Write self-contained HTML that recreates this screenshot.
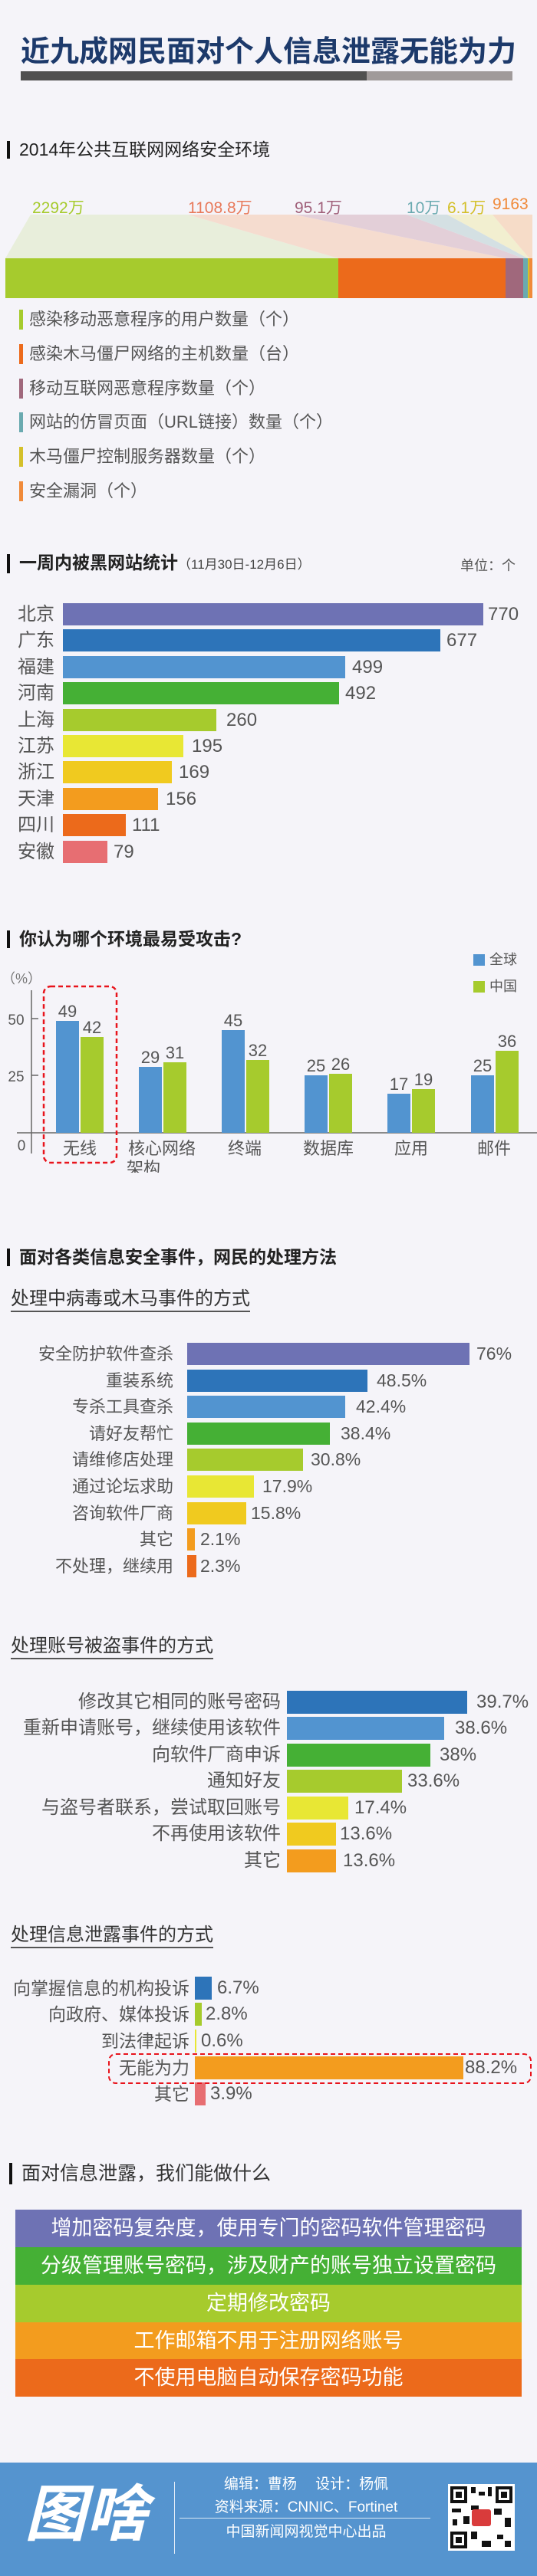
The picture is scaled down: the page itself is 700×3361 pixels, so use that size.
<!DOCTYPE html>
<html><head><meta charset="utf-8"><style>
*{margin:0;padding:0;box-sizing:border-box}
body{width:700px;height:3361px;background:#f5f4f9;position:relative;overflow:hidden;font-family:"Liberation Sans","Noto Sans CJK SC",sans-serif;color:#555}
.a{position:absolute;white-space:nowrap}
.b{position:absolute}
.hd{position:absolute;left:9px;font-size:23px;color:#222;white-space:nowrap;padding-left:12px;border-left:4px solid #111;line-height:23px}
.sub{position:absolute;left:14px;font-size:24px;color:#333;white-space:nowrap;border-bottom:2px solid #555;line-height:30px}
</style></head><body>

<div class="a" style="left:27px;top:46px;width:643px;font-size:38px;font-weight:bold;color:#1d3a6b;line-height:44px;overflow:hidden">近九成网民面对个人信息泄露无能为力</div>
<div class="b" style="left:27px;top:93px;width:451px;height:12px;background:#505050"></div>
<div class="b" style="left:478px;top:93px;width:190px;height:12px;background:#a09a9a"></div>

<div class="hd" style="top:184px">2014年公共互联网网络安全环境</div>
<svg class="b" style="left:0;top:0" width="700" height="400">
<polygon points="40,280 245,280 441,337 7,337" fill="#e8eedb"/>
<polygon points="245,280 384,280 659,337 441,337" fill="#f5dccf"/>
<polygon points="384,280 530,280 682,337 659,337" fill="#e3cfd8"/>
<polygon points="530,280 583,280 688,337 682,337" fill="#d4e0e3"/>
<polygon points="583,280 642,280 690,337 688,337" fill="#f2efd0"/>
<polygon points="642,280 694,280 694,337 690,337" fill="#f6dcc8"/>
<rect x="7" y="337" width="434" height="52" fill="#a6cb2d"/>
<rect x="441" y="337" width="218" height="52" fill="#ec6a1b"/>
<rect x="659" y="337" width="23" height="52" fill="#a0687c"/>
<rect x="682" y="337" width="6" height="52" fill="#6aaab0"/>
<rect x="688" y="337" width="2" height="52" fill="#d4c02a"/>
<rect x="690" y="337" width="4" height="52" fill="#f08a3a"/>
</svg>
<div class="a" style="left:42px;top:255px;font-size:21px;color:#a6cb2d">2292万</div>
<div class="a" style="left:245px;top:255px;font-size:21px;color:#e8795a">1108.8万</div>
<div class="a" style="left:384px;top:255px;font-size:21px;color:#a0607a">95.1万</div>
<div class="a" style="left:530px;top:255px;font-size:21px;color:#6aaab0">10万</div>
<div class="a" style="left:583px;top:255px;font-size:21px;color:#d4c02a">6.1万</div>
<div class="a" style="left:642px;top:255px;font-size:21px;color:#f08a3a">9163</div>

<div class="a" style="left:25px;top:404px;font-size:22px;line-height:26px;border-left:5px solid #a6cb2d;padding-left:8px">感染移动恶意程序的用户数量（个）</div>
<div class="a" style="left:25px;top:449px;font-size:22px;line-height:26px;border-left:5px solid #ec6a1b;padding-left:8px">感染木马僵尸网络的主机数量（台）</div>
<div class="a" style="left:25px;top:494px;font-size:22px;line-height:26px;border-left:5px solid #a0687c;padding-left:8px">移动互联网恶意程序数量（个）</div>
<div class="a" style="left:25px;top:538px;font-size:22px;line-height:26px;border-left:5px solid #6aaab0;padding-left:8px">网站的仿冒页面（URL链接）数量（个）</div>
<div class="a" style="left:25px;top:583px;font-size:22px;line-height:26px;border-left:5px solid #d4c02a;padding-left:8px">木马僵尸控制服务器数量（个）</div>
<div class="a" style="left:25px;top:628px;font-size:22px;line-height:26px;border-left:5px solid #f08a3a;padding-left:8px">安全漏洞（个）</div>

<div class="hd" style="top:723px;font-weight:bold">一周内被黑网站统计<span style="font-weight:normal;font-size:17px;color:#444">（11月30日-12月6日）</span></div>
<div class="a" style="left:600px;top:724px;font-size:18px;color:#555">单位：个</div>

<!-- chart2 -->
<div class="a" style="left:23px;top:787px;font-size:24px;line-height:29px">北京</div><div class="b" style="left:82px;top:787px;width:548px;height:29px;background:#6e72b4"></div><div class="a" style="left:636px;top:787px;font-size:24px;line-height:29px">770</div>
<div class="a" style="left:23px;top:821px;font-size:24px;line-height:29px">广东</div><div class="b" style="left:82px;top:821px;width:492px;height:29px;background:#2d74b9"></div><div class="a" style="left:582px;top:821px;font-size:24px;line-height:29px">677</div>
<div class="a" style="left:23px;top:856px;font-size:24px;line-height:29px">福建</div><div class="b" style="left:82px;top:856px;width:368px;height:29px;background:#5294d0"></div><div class="a" style="left:459px;top:856px;font-size:24px;line-height:29px">499</div>
<div class="a" style="left:23px;top:890px;font-size:24px;line-height:29px">河南</div><div class="b" style="left:82px;top:890px;width:360px;height:29px;background:#45b035"></div><div class="a" style="left:450px;top:890px;font-size:24px;line-height:29px">492</div>
<div class="a" style="left:23px;top:925px;font-size:24px;line-height:29px">上海</div><div class="b" style="left:82px;top:925px;width:200px;height:29px;background:#a6cb2d"></div><div class="a" style="left:295px;top:925px;font-size:24px;line-height:29px">260</div>
<div class="a" style="left:23px;top:959px;font-size:24px;line-height:29px">江苏</div><div class="b" style="left:82px;top:959px;width:157px;height:29px;background:#e8e734"></div><div class="a" style="left:250px;top:959px;font-size:24px;line-height:29px">195</div>
<div class="a" style="left:23px;top:993px;font-size:24px;line-height:29px">浙江</div><div class="b" style="left:82px;top:993px;width:142px;height:29px;background:#f0ca1f"></div><div class="a" style="left:233px;top:993px;font-size:24px;line-height:29px">169</div>
<div class="a" style="left:23px;top:1028px;font-size:24px;line-height:29px">天津</div><div class="b" style="left:82px;top:1028px;width:124px;height:29px;background:#f39c1e"></div><div class="a" style="left:216px;top:1028px;font-size:24px;line-height:29px">156</div>
<div class="a" style="left:23px;top:1062px;font-size:24px;line-height:29px">四川</div><div class="b" style="left:82px;top:1062px;width:82px;height:29px;background:#ec6a1b"></div><div class="a" style="left:172px;top:1062px;font-size:24px;line-height:29px">111</div>
<div class="a" style="left:23px;top:1097px;font-size:24px;line-height:29px">安徽</div><div class="b" style="left:82px;top:1097px;width:58px;height:29px;background:#e76e72"></div><div class="a" style="left:148px;top:1097px;font-size:24px;line-height:29px">79</div>

<!-- chart3 -->
<div class="hd" style="top:1214px;font-weight:bold">你认为哪个环境最易受攻击?</div>
<div class="b" style="left:617px;top:1245px;width:15px;height:15px;background:#5294d0"></div><div class="a" style="left:638px;top:1240px;font-size:18px;line-height:24px">全球</div>
<div class="b" style="left:617px;top:1280px;width:15px;height:15px;background:#a6cb2d"></div><div class="a" style="left:638px;top:1275px;font-size:18px;line-height:24px">中国</div>
<div class="a" style="left:2px;top:1263px;font-size:18px;color:#777">（%）</div>
<svg class="b" style="left:0;top:1280px" width="700" height="250">
<g transform="translate(0,-1280)">
<line x1="41" y1="1292" x2="41" y2="1505" stroke="#666" stroke-width="1.5"/>
<line x1="41" y1="1329" x2="50" y2="1329" stroke="#666" stroke-width="1.5"/>
<line x1="41" y1="1403" x2="50" y2="1403" stroke="#666" stroke-width="1.5"/>
<line x1="22" y1="1478" x2="700" y2="1478" stroke="#666" stroke-width="1.5"/>
<g fill="#5294d0">
<rect x="73" y="1332" width="30" height="146"/>
<rect x="181" y="1392" width="30" height="86"/>
<rect x="289" y="1344" width="30" height="134"/>
<rect x="397" y="1403" width="30" height="75"/>
<rect x="505" y="1427" width="30" height="51"/>
<rect x="614" y="1403" width="30" height="75"/>
</g>
<g fill="#a6cb2d">
<rect x="105" y="1353" width="30" height="125"/>
<rect x="213" y="1386" width="30" height="92"/>
<rect x="321" y="1383" width="30" height="95"/>
<rect x="429" y="1401" width="30" height="77"/>
<rect x="537" y="1421" width="30" height="57"/>
<rect x="646" y="1371" width="30" height="107"/>
</g>
<rect x="57" y="1287" width="95" height="230" rx="9" fill="none" stroke="#e8141c" stroke-width="2.5" stroke-dasharray="6,4"/>
<g font-size="22" fill="#555" text-anchor="middle" font-family="Liberation Sans, Noto Sans CJK SC, sans-serif">
<text x="88" y="1327">49</text><text x="120" y="1348">42</text>
<text x="196" y="1387">29</text><text x="228" y="1381">31</text>
<text x="304" y="1339">45</text><text x="336" y="1378">32</text>
<text x="412" y="1398">25</text><text x="444" y="1396">26</text>
<text x="520" y="1422">17</text><text x="552" y="1416">19</text>
<text x="629" y="1398">25</text><text x="661" y="1366">36</text>
<text x="21" y="1337" font-size="19">50</text><text x="21" y="1411" font-size="19">25</text><text x="28" y="1501" font-size="19">0</text>
<text x="104" y="1506">无线</text>
<text x="211" y="1506">核心网络</text><text x="187" y="1532">架构</text>
<text x="319" y="1506">终端</text>
<text x="428" y="1506">数据库</text>
<text x="536" y="1506">应用</text>
<text x="644" y="1506">邮件</text>
</g></g></svg>

<div class="hd" style="top:1629px;font-weight:bold">面对各类信息安全事件，网民的处理方法</div>
<div class="sub" style="top:1680px">处理中病毒或木马事件的方式</div>

<!-- chart4 -->
<div class="a" style="left:0;width:226px;text-align:right;top:1752px;font-size:22px;line-height:29px">安全防护软件查杀</div><div class="b" style="left:244px;top:1752px;width:368px;height:29px;background:#6e72b4"></div><div class="a" style="left:621px;top:1752px;font-size:23px;line-height:29px">76%</div>
<div class="a" style="left:0;width:226px;text-align:right;top:1787px;font-size:22px;line-height:29px">重装系统</div><div class="b" style="left:244px;top:1787px;width:235px;height:29px;background:#2d74b9"></div><div class="a" style="left:491px;top:1787px;font-size:23px;line-height:29px">48.5%</div>
<div class="a" style="left:0;width:226px;text-align:right;top:1821px;font-size:22px;line-height:29px">专杀工具查杀</div><div class="b" style="left:244px;top:1821px;width:206px;height:29px;background:#5294d0"></div><div class="a" style="left:464px;top:1821px;font-size:23px;line-height:29px">42.4%</div>
<div class="a" style="left:0;width:226px;text-align:right;top:1856px;font-size:22px;line-height:29px">请好友帮忙</div><div class="b" style="left:244px;top:1856px;width:186px;height:29px;background:#45b035"></div><div class="a" style="left:444px;top:1856px;font-size:23px;line-height:29px">38.4%</div>
<div class="a" style="left:0;width:226px;text-align:right;top:1890px;font-size:22px;line-height:29px">请维修店处理</div><div class="b" style="left:244px;top:1890px;width:151px;height:29px;background:#a6cb2d"></div><div class="a" style="left:405px;top:1890px;font-size:23px;line-height:29px">30.8%</div>
<div class="a" style="left:0;width:226px;text-align:right;top:1925px;font-size:22px;line-height:29px">通过论坛求助</div><div class="b" style="left:244px;top:1925px;width:87px;height:29px;background:#e8e734"></div><div class="a" style="left:342px;top:1925px;font-size:23px;line-height:29px">17.9%</div>
<div class="a" style="left:0;width:226px;text-align:right;top:1960px;font-size:22px;line-height:29px">咨询软件厂商</div><div class="b" style="left:244px;top:1960px;width:77px;height:29px;background:#f0ca1f"></div><div class="a" style="left:327px;top:1960px;font-size:23px;line-height:29px">15.8%</div>
<div class="a" style="left:0;width:226px;text-align:right;top:1994px;font-size:22px;line-height:29px">其它</div><div class="b" style="left:244px;top:1994px;width:10px;height:29px;background:#f39c1e"></div><div class="a" style="left:261px;top:1994px;font-size:23px;line-height:29px">2.1%</div>
<div class="a" style="left:0;width:226px;text-align:right;top:2029px;font-size:22px;line-height:29px">不处理，继续用</div><div class="b" style="left:244px;top:2029px;width:12px;height:29px;background:#ec6a1b"></div><div class="a" style="left:261px;top:2029px;font-size:23px;line-height:29px">2.3%</div>

<div class="sub" style="top:2133px">处理账号被盗事件的方式</div>
<!-- chart5 -->
<div class="a" style="left:0;width:366px;text-align:right;top:2206px;font-size:24px;line-height:30px">修改其它相同的账号密码</div><div class="b" style="left:374px;top:2206px;width:235px;height:30px;background:#2d74b9"></div><div class="a" style="left:621px;top:2206px;font-size:24px;line-height:30px">39.7%</div>
<div class="a" style="left:0;width:366px;text-align:right;top:2240px;font-size:24px;line-height:30px">重新申请账号，继续使用该软件</div><div class="b" style="left:374px;top:2240px;width:205px;height:30px;background:#5294d0"></div><div class="a" style="left:593px;top:2240px;font-size:24px;line-height:30px">38.6%</div>
<div class="a" style="left:0;width:366px;text-align:right;top:2275px;font-size:24px;line-height:30px">向软件厂商申诉</div><div class="b" style="left:374px;top:2275px;width:187px;height:30px;background:#45b035"></div><div class="a" style="left:573px;top:2275px;font-size:24px;line-height:30px">38%</div>
<div class="a" style="left:0;width:366px;text-align:right;top:2309px;font-size:24px;line-height:30px">通知好友</div><div class="b" style="left:374px;top:2309px;width:150px;height:30px;background:#a6cb2d"></div><div class="a" style="left:531px;top:2309px;font-size:24px;line-height:30px">33.6%</div>
<div class="a" style="left:0;width:366px;text-align:right;top:2344px;font-size:24px;line-height:30px">与盗号者联系，尝试取回账号</div><div class="b" style="left:374px;top:2344px;width:80px;height:30px;background:#e8e734"></div><div class="a" style="left:462px;top:2344px;font-size:24px;line-height:30px">17.4%</div>
<div class="a" style="left:0;width:366px;text-align:right;top:2378px;font-size:24px;line-height:30px">不再使用该软件</div><div class="b" style="left:374px;top:2378px;width:64px;height:30px;background:#f0ca1f"></div><div class="a" style="left:443px;top:2378px;font-size:24px;line-height:30px">13.6%</div>
<div class="a" style="left:0;width:366px;text-align:right;top:2413px;font-size:24px;line-height:30px">其它</div><div class="b" style="left:374px;top:2413px;width:64px;height:30px;background:#f39c1e"></div><div class="a" style="left:447px;top:2413px;font-size:24px;line-height:30px">13.6%</div>

<div class="sub" style="top:2510px">处理信息泄露事件的方式</div>
<!-- chart6 -->
<div class="a" style="left:0;width:247px;text-align:right;top:2579px;font-size:23px;line-height:30px">向掌握信息的机构投诉</div><div class="b" style="left:254px;top:2579px;width:22px;height:30px;background:#2d74b9"></div><div class="a" style="left:283px;top:2579px;font-size:24px;line-height:30px">6.7%</div>
<div class="a" style="left:0;width:247px;text-align:right;top:2613px;font-size:23px;line-height:30px">向政府、媒体投诉</div><div class="b" style="left:254px;top:2613px;width:9px;height:30px;background:#a6cb2d"></div><div class="a" style="left:268px;top:2613px;font-size:24px;line-height:30px">2.8%</div>
<div class="a" style="left:0;width:247px;text-align:right;top:2648px;font-size:23px;line-height:30px">到法律起诉</div><div class="b" style="left:254px;top:2648px;width:2px;height:30px;background:#e8e734"></div><div class="a" style="left:262px;top:2648px;font-size:24px;line-height:30px">0.6%</div>
<div class="a" style="left:0;width:247px;text-align:right;top:2683px;font-size:23px;line-height:30px">无能为力</div><div class="b" style="left:254px;top:2683px;width:350px;height:30px;background:#f39c1e"></div><div class="a" style="left:606px;top:2683px;font-size:24px;line-height:30px">88.2%</div>
<div class="a" style="left:0;width:247px;text-align:right;top:2717px;font-size:23px;line-height:30px">其它</div><div class="b" style="left:254px;top:2717px;width:14px;height:30px;background:#e76e72"></div><div class="a" style="left:274px;top:2717px;font-size:24px;line-height:30px">3.9%</div>
<div class="b" style="left:141px;top:2679px;width:552px;height:40px;border:2.5px dashed #e8141c;border-radius:10px"></div>

<div class="a" style="left:12px;top:2822px;font-size:25px;color:#333;line-height:28px;border-left:4px solid #111;padding-left:12px">面对信息泄露，我们能做什么</div>

<div class="b" style="left:20px;top:2883px;width:660px;height:49px;background:#6e72b4;color:#fff;font-size:27px;line-height:49px;text-align:center">增加密码复杂度，使用专门的密码软件管理密码</div>
<div class="b" style="left:20px;top:2932px;width:660px;height:49px;background:#45b035;color:#fff;font-size:27px;line-height:49px;text-align:center">分级管理账号密码，涉及财产的账号独立设置密码</div>
<div class="b" style="left:20px;top:2981px;width:660px;height:49px;background:#a6cb2d;color:#fff;font-size:27px;line-height:49px;text-align:center">定期修改密码</div>
<div class="b" style="left:20px;top:3030px;width:660px;height:48px;background:#f39c1e;color:#fff;font-size:27px;line-height:48px;text-align:center">工作邮箱不用于注册网络账号</div>
<div class="b" style="left:20px;top:3078px;width:660px;height:49px;background:#ec6a1b;color:#fff;font-size:27px;line-height:49px;text-align:center">不使用电脑自动保存密码功能</div>

<div class="b" style="left:0;top:3213px;width:700px;height:148px;background:#5594cf"></div>
<div class="a" style="left:32px;top:3236px;font-size:80px;line-height:90px;color:#fff;font-weight:bold;font-style:italic">图啥</div>
<div class="b" style="left:227px;top:3238px;width:1px;height:94px;background:#e6eef8"></div>
<div class="a" style="left:234px;width:330px;text-align:center;top:3230px;font-size:19px;line-height:24px;color:#fff">编辑：曹杨　 设计：杨佩</div>
<div class="a" style="left:234px;width:330px;text-align:center;top:3260px;font-size:19px;line-height:24px;color:#fff">资料来源：CNNIC、Fortinet</div>
<div class="b" style="left:234px;top:3285px;width:327px;height:1px;background:#d8e6f4"></div>
<div class="a" style="left:234px;width:330px;text-align:center;top:3292px;font-size:19px;line-height:24px;color:#fff">中国新闻网视觉中心出品</div>
<svg class="b" style="left:584px;top:3241px" width="87" height="87"><rect width="87" height="87" fill="#fff"/>
<g fill="#111"><rect x="3" y="3" width="22" height="22"/><rect x="62" y="3" width="22" height="22"/><rect x="3" y="62" width="22" height="22"/></g>
<g fill="#fff"><rect x="7" y="7" width="14" height="14"/><rect x="66" y="7" width="14" height="14"/><rect x="7" y="66" width="14" height="14"/></g>
<g fill="#111"><rect x="10" y="10" width="8" height="8"/><rect x="69" y="10" width="8" height="8"/><rect x="10" y="69" width="8" height="8"/>
<rect x="30" y="4" width="6" height="8"/><rect x="40" y="10" width="8" height="5"/><rect x="52" y="4" width="5" height="12"/><rect x="30" y="28" width="10" height="6"/><rect x="5" y="32" width="12" height="5"/><rect x="20" y="42" width="8" height="10"/><rect x="60" y="32" width="10" height="8"/><rect x="74" y="44" width="8" height="12"/><rect x="30" y="62" width="8" height="10"/><rect x="44" y="74" width="12" height="8"/><rect x="64" y="66" width="8" height="6"/><rect x="74" y="74" width="8" height="8"/><rect x="6" y="46" width="6" height="8"/></g>
<rect x="31" y="33" width="25" height="22" rx="3" fill="#d93b3b"/></svg>
</body></html>
